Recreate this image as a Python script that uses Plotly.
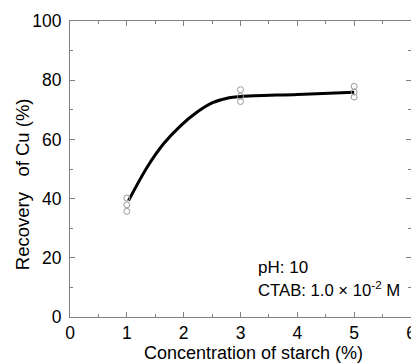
import plotly.graph_objects as go

# measured replicate points
x_meas = [1, 1, 1, 3, 3, 3, 5, 5, 5]
y_meas = [40.2, 37.9, 35.7, 76.8, 74.6, 72.8, 77.9, 76.0, 74.3]

# fitted curve
x_fit = [1.03, 1.36, 1.65, 1.94, 2.22, 2.51, 2.80, 3.0, 4.0, 5.0]
y_fit = [39.3, 50.7, 58.6, 64.5, 69.0, 72.4, 74.1, 74.5, 75.2, 75.9]

x_ticks = [0, 1, 2, 3, 4, 5, 6]
y_ticks = [0, 20, 40, 60, 80, 100]

FONT = "Liberation Sans, Arial, sans-serif"
FS = 17.5

fig = go.Figure()
fig.add_trace(go.Scatter(
    x=x_fit, y=y_fit, mode="lines", line=dict(color="black", width=3, shape="spline"),
    showlegend=False, hoverinfo="skip"))
fig.add_trace(go.Scatter(
    x=x_meas, y=y_meas, mode="markers",
    marker=dict(symbol="circle-open", size=6, color="#9a9a9a", line=dict(width=1)),
    showlegend=False))

axis_common = dict(
    showgrid=False, zeroline=False, showline=True, linecolor="#808080", linewidth=1,
    mirror="ticks", ticks="inside", ticklen=5, tickcolor="#808080", tickwidth=1,
    tickfont=dict(family=FONT, size=FS, color="black"),
    ticklabeloverflow="allow",
)
fig.update_xaxes(range=[0, 6], tickvals=x_ticks, ticktext=[str(v) for v in x_ticks],
                 minor=dict(dtick=0.5, ticks="inside", ticklen=3, tickcolor="#808080"),
                 **axis_common)
fig.update_yaxes(range=[0, 100], tickvals=y_ticks, ticktext=[str(v) for v in y_ticks],
                 minor=dict(dtick=10, ticks="inside", ticklen=3, tickcolor="#808080"),
                 ticklabelstandoff=4, **axis_common)

fig.update_layout(
    width=411, height=355,
    margin=dict(l=62, r=3, t=12, b=46),
    plot_bgcolor="white", paper_bgcolor="white",
    font=dict(family=FONT, color="black"),
    annotations=[
        dict(text="Concentration of starch (%)", xref="paper", yref="paper",
             x=0.5376, y=-0.1212, xanchor="center", yanchor="middle",
             showarrow=False, font=dict(size=18)),
        dict(text="Recovery\u00a0\u00a0 of Cu (%)", xref="paper", yref="paper",
             x=-0.1387, y=0.4478, xanchor="center", yanchor="middle",
             textangle=-90, showarrow=False, font=dict(size=18.5)),
        dict(text="pH: 10", xref="x", yref="y", x=3.265, y=16.6,
             xanchor="left", yanchor="middle", showarrow=False, font=dict(size=17)),
        dict(text="CTAB: 1.0 \u00d7 10<sup>-2</sup> M", xref="x", yref="y", x=3.265, y=9.5,
             xanchor="left", yanchor="middle", showarrow=False, font=dict(size=16.7)),
    ],
)

fig.write_html("out.html")
